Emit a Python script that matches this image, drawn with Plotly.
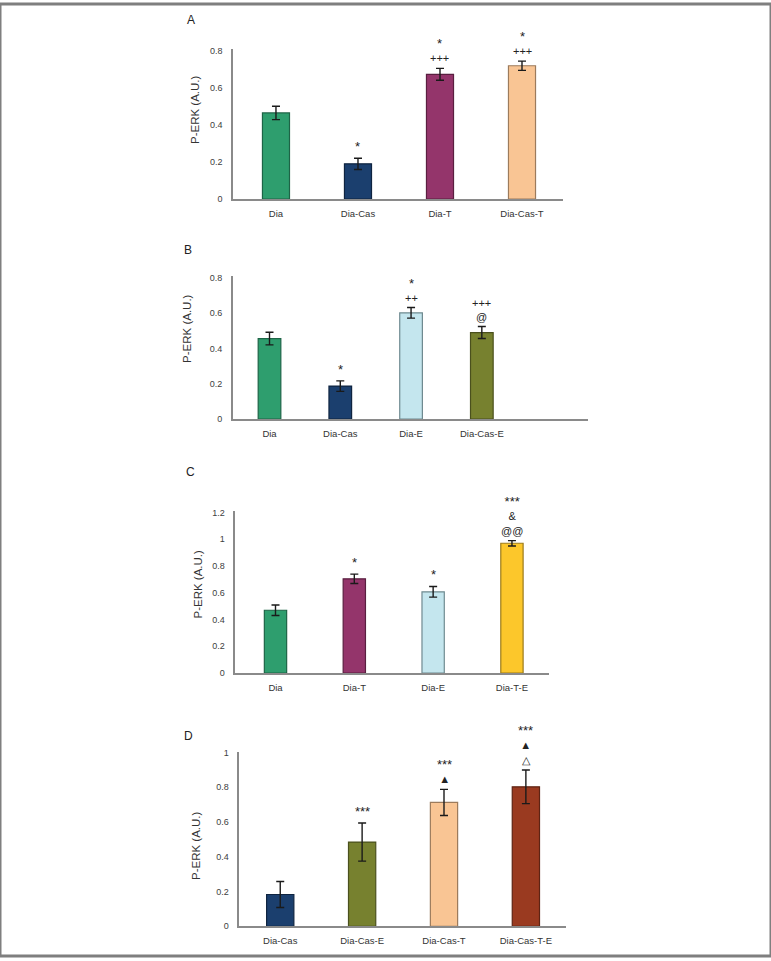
import plotly.graph_objects as go

# ---------------- data ----------------
cats_a = ["Dia", "Dia-Cas", "Dia-T", "Dia-Cas-T"]
vals_a = [0.464, 0.190, 0.672, 0.718]
err_a = [0.036, 0.030, 0.032, 0.025]
marks_a = [[], ["*"], ["+++", "*"], ["+++", "*"]]

cats_b = ["Dia", "Dia-Cas", "Dia-E", "Dia-Cas-E"]
vals_b = [0.457, 0.187, 0.603, 0.491]
err_b = [0.036, 0.030, 0.030, 0.034]
marks_b = [[], ["*"], ["++", "*"], ["@", "+++"]]

cats_c = ["Dia", "Dia-T", "Dia-E", "Dia-T-E"]
vals_c = [0.469, 0.704, 0.607, 0.970]
err_c = [0.039, 0.035, 0.040, 0.020]
marks_c = [[], ["*"], ["*"], ["@@", "&", "***"]]

cats_d = ["Dia-Cas", "Dia-Cas-E", "Dia-Cas-T", "Dia-Cas-T-E"]
vals_d = [0.183, 0.485, 0.713, 0.803]
err_d = [0.075, 0.110, 0.075, 0.097]
marks_d = [[], ["***"], ["▲", "***"], ["△", "▲", "***"]]

panel_labels = ["A", "B", "C", "D"]
y_title = "P-ERK (A.U.)"

# ---------------- styles ----------------
fill = {
    "Dia": "#2E9E6E", "Dia-Cas": "#1B3F6E", "Dia-T": "#94356B",
    "Dia-Cas-T": "#F9C594", "Dia-E": "#C4E6EE", "Dia-Cas-E": "#77812F",
    "Dia-T-E": "#FCC72B", "Dia-Cas-T-E": "#9A3A20",
}
edge = {
    "Dia": "#1d6446", "Dia-Cas": "#0f2440", "Dia-T": "#5a1f40",
    "Dia-Cas-T": "#9c7b5c", "Dia-E": "#6f8a90", "Dia-Cas-E": "#4a501d",
    "Dia-T-E": "#9c7b1a", "Dia-Cas-T-E": "#5e2313",
}

W, H = 771, 961
FONT = "Liberation Sans Narrow, Arial Narrow, Liberation Sans, Arial, sans-serif"

panels = [
    dict(cats=cats_a, vals=vals_a, err=err_a, marks=marks_a,
         px=(233, 563), py=(197, 45.1), xr=[-0.524, 3.5], yr=[0, 0.81], bw=0.33,
         label_xy=(191, 16), title_xy=(195, 107)),
    dict(cats=cats_b, vals=vals_b, err=err_b, marks=marks_b,
         px=(232.7, 588), py=(419, 274.9), xr=[-0.52, 4.5], yr=[0, 0.81], bw=0.32,
         label_xy=(188, 248), title_xy=(187, 328)),
    dict(cats=cats_c, vals=vals_c, err=err_c, marks=marks_c,
         px=(235.3, 549), py=(675.3, 511.7), xr=[-0.51, 3.47], yr=[0, 1.212], bw=0.283,
         label_xy=(190, 472), title_xy=(198, 585)),
    dict(cats=cats_d, vals=vals_d, err=err_d, marks=marks_d,
         px=(239.3, 566), py=(931, 754.8), xr=[-0.5, 3.49], yr=[0, 1.005], bw=0.333,
         label_xy=(188, 739), title_xy=(196, 850)),
]

fig = go.Figure()
annotations = []
layout = {}


def fmt_mark(t):
    if set(t) == {"*"}:
        return '<span style="font-size:13px">' + t + "</span>"
    return t


for i, p in enumerate(panels):
    n = "" if i == 0 else str(i + 1)
    xa, ya = "x" + n, "y" + n
    fig.add_trace(go.Bar(
        x=p["cats"], y=p["vals"], xaxis=xa, yaxis=ya, width=p["bw"],
        marker=dict(color=[fill[c] for c in p["cats"]],
                    line=dict(color=[edge[c] for c in p["cats"]], width=1.2)),
        error_y=dict(type="data", array=p["err"], visible=True,
                     color="#1a1a1a", thickness=1.4, width=4),
        showlegend=False, hoverinfo="x+y",
    ))
    layout["xaxis" + n] = dict(
        domain=[p["px"][0] / W, p["px"][1] / W], anchor=ya,
        type="category", categoryorder="array", categoryarray=p["cats"],
        range=p["xr"], showline=True, linecolor="#8a8a8a", linewidth=1.5,
        showgrid=False, zeroline=False, ticks="", ticklabelstandoff=5,
        tickfont=dict(family=FONT, size=9.5, color="#333333"), fixedrange=True,
    )
    layout["yaxis" + n] = dict(
        domain=[1 - p["py"][0] / H, 1 - p["py"][1] / H], anchor=xa,
        range=p["yr"], dtick=0.2, tick0=0, showline=True,
        linecolor="#8a8a8a", linewidth=1.5, showgrid=False, zeroline=False,
        ticks="", ticklabelstandoff=7,
        tickfont=dict(family=FONT, size=9, color="#404040"), fixedrange=True,
    )
    for c, v, e, mk in zip(p["cats"], p["vals"], p["err"], p["marks"]):
        if not mk:
            continue
        text = "<br>".join(fmt_mark(t) for t in reversed(mk))
        annotations.append(dict(
            x=c, y=v + e, xref=xa, yref=ya, text=text, showarrow=False,
            yanchor="bottom", yshift=2, align="center",
            font=dict(family=FONT, size=11, color="#222222"),
        ))
    lx, ly = p["label_xy"]
    annotations.append(dict(
        x=lx / W, y=1 - ly / H, xref="paper", yref="paper", text=panel_labels[i],
        showarrow=False, xanchor="center", yanchor="middle",
        font=dict(family=FONT, size=12, color="#222222"),
    ))
    tx, ty = p["title_xy"]
    annotations.append(dict(
        x=tx / W, y=1 - ty / H, xref="paper", yref="paper", text=y_title,
        textangle=-90, showarrow=False, xanchor="center", yanchor="middle",
        font=dict(family=FONT, size=11.5, color="#333333"),
    ))

fig.update_layout(
    width=W, height=H, margin=dict(l=0, r=0, t=0, b=0),
    paper_bgcolor="white", plot_bgcolor="white",
    annotations=annotations,
    shapes=[dict(type="rect", xref="paper", yref="paper", x0=0, x1=1, y0=0, y1=1,
                 line=dict(color="#7f7f7f", width=3), fillcolor="rgba(0,0,0,0)")],
    **layout,
)

fig.write_html(
    "out.html",
    config={"displayModeBar": False},
    post_script="document.body.style.margin='0px';document.body.style.overflow='hidden';",
)
